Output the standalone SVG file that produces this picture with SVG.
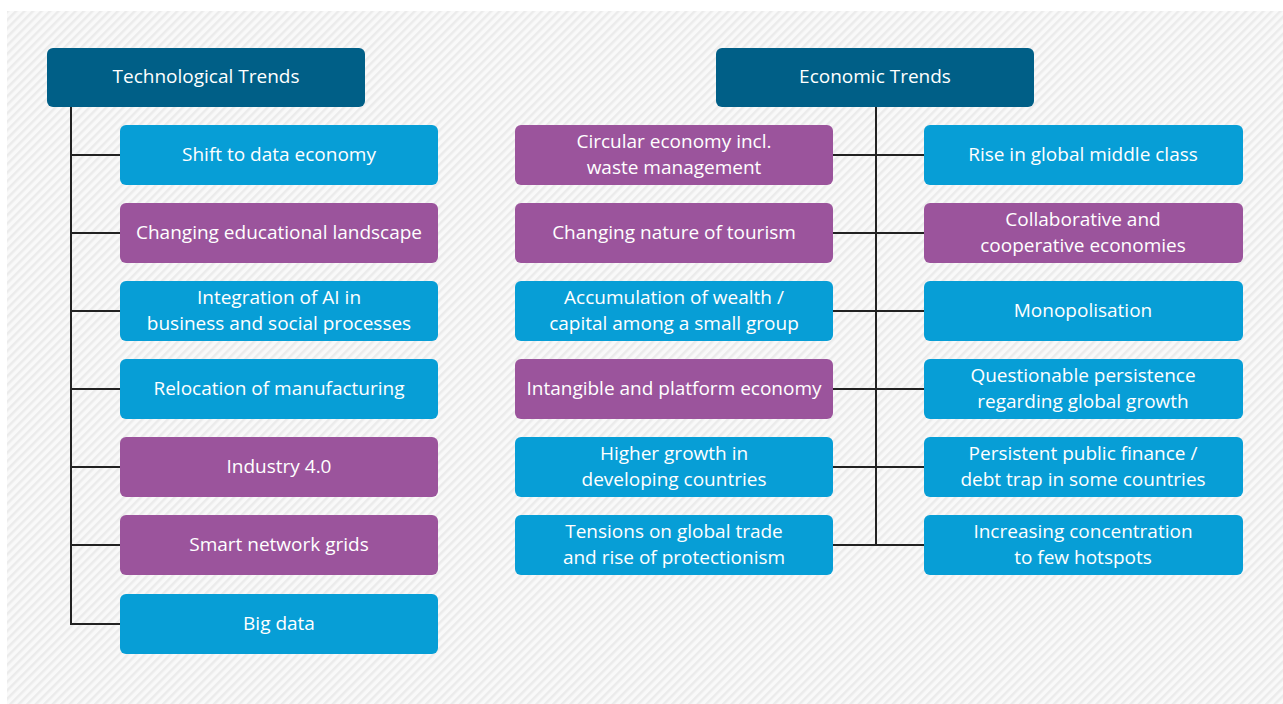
<svg xmlns="http://www.w3.org/2000/svg" width="1283" height="704" viewBox="0 0 1283 704">
<style>
.hdr{fill:#005f87}
.blue{fill:#079ed6}
.purp{fill:#9b549c}
text{font-family:"Open Sans","Liberation Sans",sans-serif;font-size:19px;fill:#ffffff;text-anchor:middle}
.conn{stroke:#222222;stroke-width:2;fill:none}
</style>
<defs>
<pattern id="stripes" patternUnits="userSpaceOnUse" width="6" height="6" patternTransform="rotate(45)">
<rect width="6" height="6" fill="#f9f9f9"/>
<rect width="2.5" height="6" fill="#ebebeb"/>
</pattern>
</defs>
<rect width="1283" height="704" fill="#ffffff"/>
<rect x="7" y="11" width="1276" height="693" fill="url(#stripes)"/>
<g id="connectors">
<path class="conn" d="M71 107 V624 H120"/>
<path class="conn" d="M71 155 H120 M71 233 H120 M71 311 H120 M71 389 H120 M71 467 H120 M71 545 H120"/>
<path class="conn" d="M876 107 V545"/>
<path class="conn" d="M833 155 H924 M833 233 H924 M833 311 H924 M833 389 H924 M833 467 H924 M833 545 H924"/>
</g>
<g id="tech-header"><rect class="hdr" x="47" y="48" width="318" height="59" rx="6"/><text x="206" y="83">Technological Trends</text></g>
<g id="econ-header"><rect class="hdr" x="716" y="48" width="318" height="59" rx="6"/><text x="875" y="83">Economic Trends</text></g>
<g id="t1"><rect class="blue" x="120" y="125" width="318" height="60" rx="6"/><text x="279" y="161">Shift to data economy</text></g>
<g id="t2"><rect class="purp" x="120" y="203" width="318" height="60" rx="6"/><text x="279" y="239">Changing educational landscape</text></g>
<g id="t3"><rect class="blue" x="120" y="281" width="318" height="60" rx="6"/><text x="279" y="304">Integration of AI in</text><text x="279" y="330">business and social processes</text></g>
<g id="t4"><rect class="blue" x="120" y="359" width="318" height="60" rx="6"/><text x="279" y="395">Relocation of manufacturing</text></g>
<g id="t5"><rect class="purp" x="120" y="437" width="318" height="60" rx="6"/><text x="279" y="473">Industry 4.0</text></g>
<g id="t6"><rect class="purp" x="120" y="515" width="318" height="60" rx="6"/><text x="279" y="551">Smart network grids</text></g>
<g id="t7"><rect class="blue" x="120" y="594" width="318" height="60" rx="6"/><text x="279" y="630">Big data</text></g>
<g id="m1"><rect class="purp" x="515" y="125" width="318" height="60" rx="6"/><text x="674" y="148">Circular economy incl.</text><text x="674" y="174">waste management</text></g>
<g id="m2"><rect class="purp" x="515" y="203" width="318" height="60" rx="6"/><text x="674" y="239">Changing nature of tourism</text></g>
<g id="m3"><rect class="blue" x="515" y="281" width="318" height="60" rx="6"/><text x="674" y="304">Accumulation of wealth /</text><text x="674" y="330">capital among a small group</text></g>
<g id="m4"><rect class="purp" x="515" y="359" width="318" height="60" rx="6"/><text x="674" y="395">Intangible and platform economy</text></g>
<g id="m5"><rect class="blue" x="515" y="437" width="318" height="60" rx="6"/><text x="674" y="460">Higher growth in</text><text x="674" y="486">developing countries</text></g>
<g id="m6"><rect class="blue" x="515" y="515" width="318" height="60" rx="6"/><text x="674" y="538">Tensions on global trade</text><text x="674" y="564">and rise of protectionism</text></g>
<g id="r1"><rect class="blue" x="924" y="125" width="319" height="60" rx="6"/><text x="1083" y="161">Rise in global middle class</text></g>
<g id="r2"><rect class="purp" x="924" y="203" width="319" height="60" rx="6"/><text x="1083" y="226">Collaborative and</text><text x="1083" y="252">cooperative economies</text></g>
<g id="r3"><rect class="blue" x="924" y="281" width="319" height="60" rx="6"/><text x="1083" y="317">Monopolisation</text></g>
<g id="r4"><rect class="blue" x="924" y="359" width="319" height="60" rx="6"/><text x="1083" y="382">Questionable persistence</text><text x="1083" y="408">regarding global growth</text></g>
<g id="r5"><rect class="blue" x="924" y="437" width="319" height="60" rx="6"/><text x="1083" y="460">Persistent public finance /</text><text x="1083" y="486">debt trap in some countries</text></g>
<g id="r6"><rect class="blue" x="924" y="515" width="319" height="60" rx="6"/><text x="1083" y="538">Increasing concentration</text><text x="1083" y="564">to few hotspots</text></g>
</svg>
